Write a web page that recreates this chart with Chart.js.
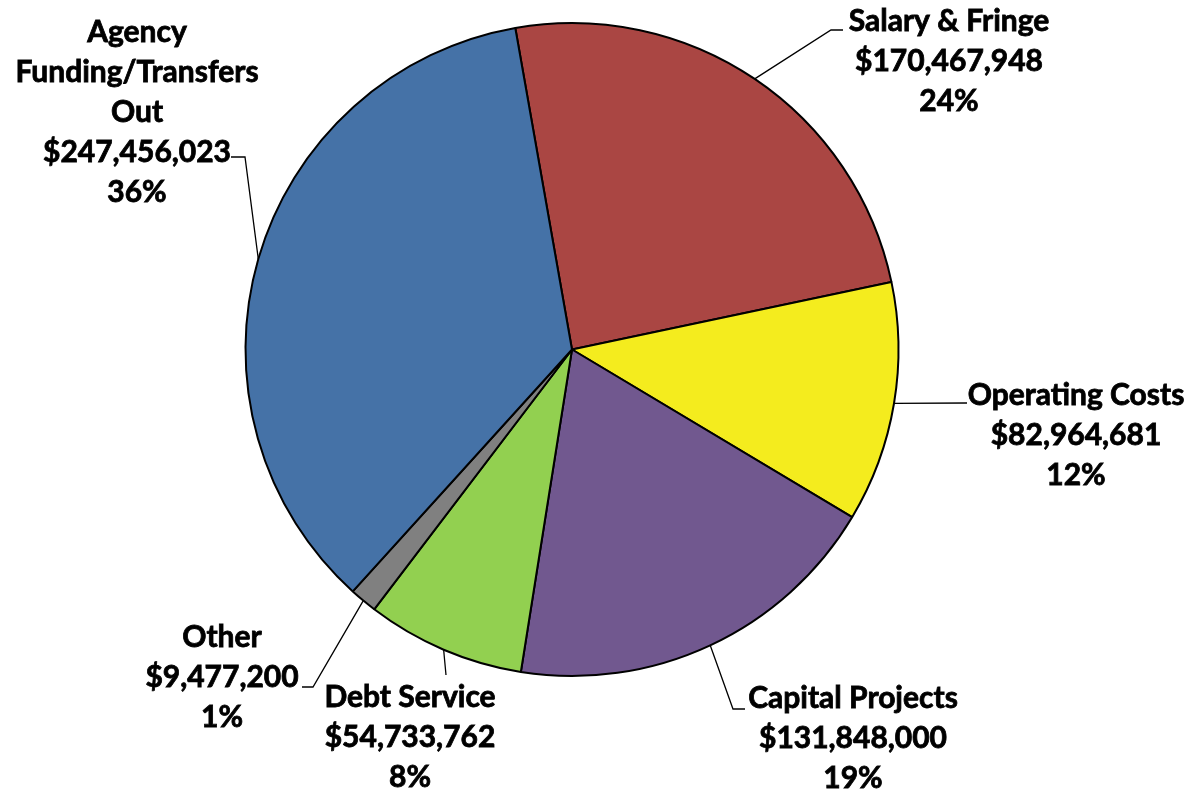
<!DOCTYPE html>
<html>
<head>
<meta charset="utf-8">
<script src="https://cdn.jsdelivr.net/npm/chart.js@4/dist/chart.umd.min.js"></script>
<style>
  html, body { margin: 0; padding: 0; background: #fff; }
  #wrap { width: 1196px; height: 793px; }
</style>
</head>
<body>
<div id="wrap"><canvas id="pie" width="1196" height="793"></canvas></div>
<script>
var categories = ["Salary & Fringe", "Operating Costs", "Capital Projects", "Debt Service", "Other", "Agency Funding/Transfers Out"];
var amounts = [170467948, 82964681, 131848000, 54733762, 9477200, 247456023];
var sliceColors = ["#AA4643", "#F4EC1E", "#71588F", "#92D050", "#808080", "#4572A7"];

// label layout: text lines, centre x, first line y, hook points (text side)
var labelLayout = [
    { lines: ["Salary & Fringe"], cx: 949, y0: 21, hook: [[843, 30], [831, 30]] },
    { lines: ["Operating Costs"], cx: 1076, y0: 395, hook: [[967, 403]] },
    { lines: ["Capital Projects"], cx: 853, y0: 698, hook: [[745, 709], [733, 709]] },
    { lines: ["Debt Service"], cx: 410, y0: 697, hook: [[446, 675]] },
    { lines: ["Other"], cx: 222, y0: 637, hook: [[302, 687], [313, 687]] },
    { lines: ["Agency", "Funding/Transfers", "Out"], cx: 137, y0: 32, hook: [[231, 157], [245, 157]] }
];

var total = amounts.reduce(function(a, b) { return a + b; }, 0);

function money(v) {
    return "$" + v.toLocaleString("en-US");
}

var labelPlugin = {
    id: "pieLabels",
    afterDraw: function(chart) {
        var ctx = chart.ctx;
        var arcs = chart.getDatasetMeta(0).data;
        ctx.save();
        ctx.fillStyle = "#000";
        ctx.strokeStyle = "#000";
        ctx.font = "bold 30px Lato";
        ctx.textAlign = "center";
        ctx.textBaseline = "middle";
        arcs.forEach(function(arc, i) {
            var lay = labelLayout[i];
            var mid = (arc.startAngle + arc.endAngle) / 2;
            var ex = arc.x + arc.outerRadius * Math.cos(mid);
            var ey = arc.y + arc.outerRadius * Math.sin(mid);
            ctx.lineWidth = 1.3;
            ctx.beginPath();
            ctx.moveTo(ex, ey);
            for (var k = lay.hook.length - 1; k >= 0; k--) {
                ctx.lineTo(lay.hook[k][0], lay.hook[k][1]);
            }
            ctx.stroke();
            var txt = lay.lines.concat([money(amounts[i]), Math.round(amounts[i] / total * 100) + "%"]);
            ctx.lineWidth = 0.8;
            txt.forEach(function(t, j) {
                ctx.fillText(t, lay.cx, lay.y0 + j * 40);
                ctx.strokeText(t, lay.cx, lay.y0 + j * 40);
            });
        });
        ctx.restore();
    }
};

var myChart = new Chart(document.getElementById("pie"), {
    type: "pie",
    data: {
        labels: categories,
        datasets: [{
            data: amounts,
            backgroundColor: sliceColors,
            borderColor: "#000",
            borderWidth: 2
        }]
    },
    options: {
        responsive: false,
        animation: false,
        rotation: -10,
        layout: { padding: { top: 22, bottom: 116, left: 244, right: 296 } },
        plugins: {
            legend: { display: false },
            tooltip: { enabled: false }
        }
    },
    plugins: [labelPlugin]
});
</script>
</body>
</html>
